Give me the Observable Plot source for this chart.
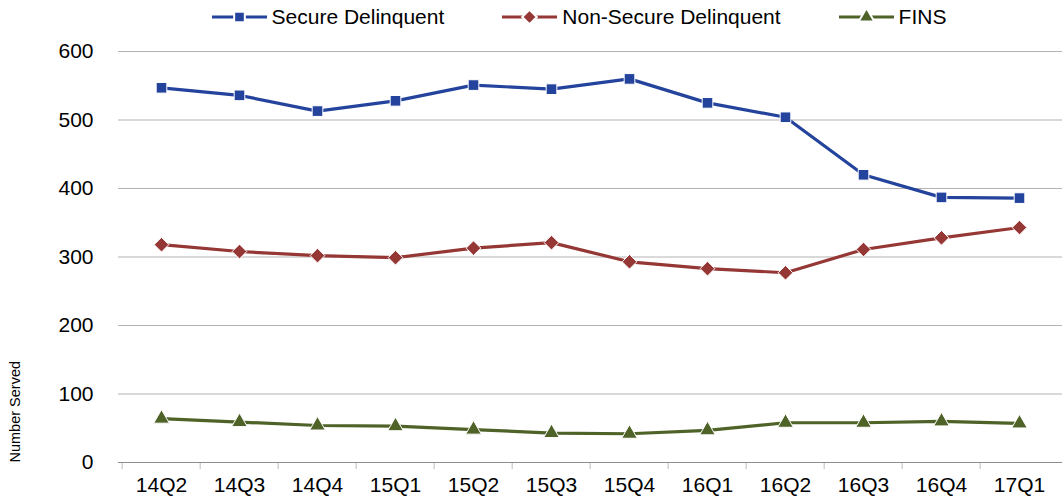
<!DOCTYPE html>
<html>
<head>
<meta charset="utf-8">
<script src="https://cdn.jsdelivr.net/npm/d3@7"></script>
<script src="https://cdn.jsdelivr.net/npm/@observablehq/plot@0.6"></script>
<style>
  html, body { margin: 0; padding: 0; background: #fff; }
  body { width: 1062px; height: 503px; overflow: hidden; font-family: "Liberation Sans", Arial, sans-serif; }
  #legend { height: 34px; display: flex; justify-content: center; align-items: center; gap: 58px; padding-left: 96px; box-sizing: border-box; font-size: 21px; color: #000; }
  .item { display: flex; align-items: center; gap: 5px; }
  .item svg { display: block; }
</style>
</head>
<body>
<div id="legend"></div>
<div id="chart"></div>
<script>
const quarters = ["14Q2","14Q3","14Q4","15Q1","15Q2","15Q3","15Q4","16Q1","16Q2","16Q3","16Q4","17Q1"];
const secure = [547, 536, 513, 528, 551, 545, 560, 525, 504, 420, 387, 386];
const nonSecure = [318, 308, 302, 299, 313, 321, 293, 283, 277, 311, 328, 343];
const fins = [64, 59, 54, 53, 48, 43, 42, 47, 58, 58, 60, 57];
const yTicks = [0, 100, 200, 300, 400, 500, 600];

const seriesNames = ["Secure Delinquent", "Non-Secure Delinquent", "FINS"];
const seriesValues = [secure, nonSecure, fins];
const colors = ["#23439c", "#953735", "#4f6228"];
const symbols = ["square", "diamond2", "triangle"];
const radii = [6.0, 6.6, 5.8];

const rows = seriesNames.flatMap((name, s) =>
  quarters.map((q, i) => ({series: name, quarter: q, value: seriesValues[s][i]})));

const width = 1062, height = 469, marginLeft = 118, marginRight = 0;
const step = (width - marginLeft - marginRight) / quarters.length;

const marks = [
  Plot.gridY(yTicks, {stroke: "#b3b3b3", strokeOpacity: 1}),
  Plot.ruleX(quarters, {x: d => d, dx: -step / 2, insetTop: 411, insetBottom: -7, stroke: "#bdbdbd"}),
  Plot.ruleY([0], {stroke: "#8c8c8c"}),
  Plot.axisY(yTicks, {tickSize: 0, tickPadding: 25, fontSize: 21, label: null}),
  Plot.axisX({tickSize: 0, tickPadding: 15, fontSize: 21, label: null}),
  Plot.text(["Number Served"], {text: d => d, frameAnchor: "bottom-left", rotate: -90, textAnchor: "start", lineAnchor: "middle", dx: -103, fontSize: 14.5})
];
seriesNames.forEach((name, s) => {
  const data = rows.filter(r => r.series === name);
  marks.push(Plot.line(data, {x: "quarter", y: "value", stroke: colors[s], strokeWidth: 3.2}));
  marks.push(Plot.dot(data, {x: "quarter", y: "value", symbol: () => symbols[s], r: radii[s], fill: colors[s], stroke: "#fff", strokeWidth: 1}));
});

const chart = Plot.plot({
  width, height,
  marginTop: 17, marginBottom: 41, marginLeft, marginRight,
  style: {fontFamily: "'Liberation Sans', Arial, sans-serif", fontSize: "21px", color: "#000", background: "#fff"},
  x: {type: "point", domain: quarters, padding: 0.5},
  y: {domain: [0, 600]},
  symbol: {domain: symbols, range: symbols},
  marks
});
document.getElementById("chart").appendChild(chart);

// legend
const legend = d3.select("#legend");
const symMap = {square: d3.symbolSquare, diamond2: d3.symbolDiamond2, triangle: d3.symbolTriangle};
seriesNames.forEach((name, s) => {
  const item = legend.append("div").attr("class", "item");
  const sw = item.append("svg").attr("width", 55).attr("height", 20);
  sw.append("line").attr("x1", 0).attr("x2", 55).attr("y1", 10).attr("y2", 10)
    .attr("stroke", colors[s]).attr("stroke-width", 3.2);
  sw.append("path").attr("transform", "translate(27.5,10)")
    .attr("d", d3.symbol(symMap[symbols[s]], Math.PI * radii[s] * radii[s])())
    .attr("fill", colors[s]).attr("stroke", "#fff").attr("stroke-width", 2);
  item.append("span").text(name);
});
</script>
</body>
</html>
